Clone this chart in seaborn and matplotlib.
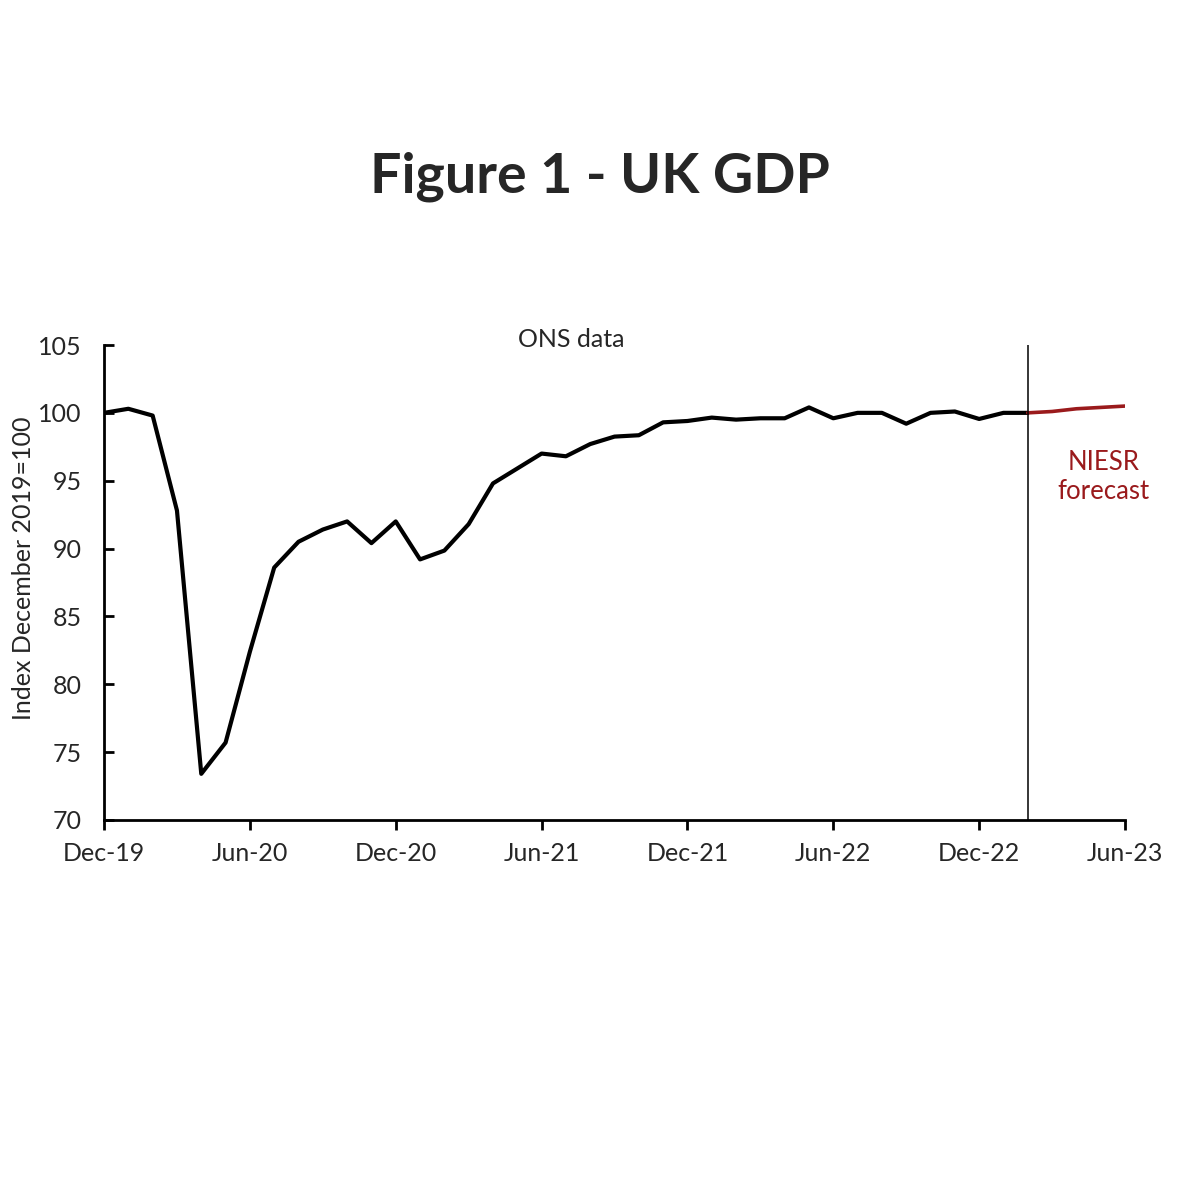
import matplotlib
matplotlib.use("Agg")
import matplotlib.pyplot as plt
import seaborn as sns
import pandas as pd

# Monthly GDP index, Dec-19 = 100 (ONS data Dec-19 .. Feb-23)
ons_gdp = [100.0, 100.3, 99.8, 92.8, 73.4, 75.7, 82.4, 88.6, 90.5, 91.4,
           92.0, 90.4, 92.0, 89.2, 89.85, 91.8, 94.8, 95.9, 97.0, 96.8,
           97.7, 98.25, 98.35, 99.3, 99.4, 99.65, 99.5, 99.6, 99.6, 100.4,
           99.6, 100.0, 100.0, 99.2, 100.0, 100.1, 99.55, 100.0, 100.0]
# NIESR forecast Feb-23 .. Jun-23
niesr_forecast = [100.0, 100.1, 100.3, 100.4, 100.5]

tick_labels = ["Dec-19", "Jun-20", "Dec-20", "Jun-21", "Dec-21",
               "Jun-22", "Dec-22", "Jun-23"]

forecast_start = len(ons_gdp) - 1
ons_df = pd.DataFrame({"month": range(len(ons_gdp)), "gdp": ons_gdp})
fc_df = pd.DataFrame({"month": range(forecast_start, forecast_start + len(niesr_forecast)),
                      "gdp": niesr_forecast})

sns.set_style("white")
plt.rcParams["font.family"] = ["Lato", "DejaVu Sans"]

red = "#9a1a1c"

fig = plt.figure(figsize=(12, 12), dpi=100)
ax = fig.add_axes([0.0867, 0.3167, 0.8508, 0.3958])

sns.lineplot(data=ons_df, x="month", y="gdp", color="black", linewidth=3, ax=ax)
sns.lineplot(data=fc_df, x="month", y="gdp", color=red, linewidth=2.6, ax=ax)
ax.axvline(forecast_start, color="black", linewidth=1.1)

ax.set_xlim(0, 42)
ax.set_ylim(70, 105)
ax.set_xticks(range(0, 43, 6))
ax.set_xticklabels(tick_labels)
ax.set_yticks(range(70, 106, 5))
ax.set_xlabel("")
ax.set_ylabel("Index December 2019=100", fontsize=18)
ax.yaxis.set_label_coords(-0.068, 0.53)

for side in ["top", "right"]:
    ax.spines[side].set_visible(False)
for side in ["left", "bottom"]:
    ax.spines[side].set_color("black")
    ax.spines[side].set_linewidth(2)

ax.tick_params(axis="x", direction="out", length=7, width=2, color="black",
               labelsize=18, pad=9, bottom=True)
ax.tick_params(axis="y", direction="in", length=7, width=2, color="black",
               labelsize=18, pad=16, left=True)

ax.text(19.2, 105.4, "ONS data", ha="center", va="center", fontsize=18)
ax.text(41.1, 95.3, "NIESR\nforecast", ha="center", va="center", fontsize=18.5,
        color=red, linespacing=1.2)

fig.text(0.5, 0.853, "Figure 1 - UK GDP", ha="center", va="center",
         fontsize=40, fontweight="bold")

fig.savefig("out.png", dpi=100)
